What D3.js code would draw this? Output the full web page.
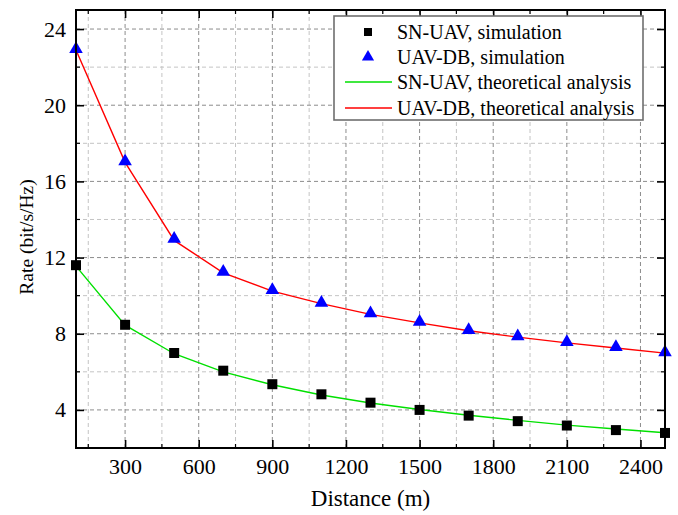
<!DOCTYPE html>
<html><head><meta charset="utf-8">
<script src="https://cdn.jsdelivr.net/npm/d3@7"></script>
<style>body{margin:0;background:#fff}svg{display:block}svg text{font-family:"Liberation Serif","Times New Roman",serif;fill:#000}</style>
</head><body>
<svg id="chart" width="678" height="515" font-family="Liberation Serif"></svg>
<script>
const distances = [100,300,500,700,900,1100,1300,1500,1700,1900,2100,2300,2500];
const snUavSim  = [11.6,8.47,6.99,6.06,5.35,4.82,4.38,4.0,3.70,3.41,3.18,2.94,2.79];
const uavDbSim  = [22.95,17.05,12.98,11.25,10.29,9.62,9.07,8.63,8.19,7.86,7.56,7.30,7.02];
const snUavTheo = [11.55,8.45,6.95,6.0,5.32,4.78,4.36,4.02,3.72,3.45,3.2,3.0,2.8];
const uavDbTheo = [22.9,17.0,12.9,11.2,10.24,9.58,9.02,8.57,8.16,7.82,7.52,7.25,6.98];
const xTicks = [300,600,900,1200,1500,1800,2100,2400];
const yTicks = [4,8,12,16,20,24];
const xMinor = [150,450,750,1050,1350,1650,1950,2250];
const yMinor = [6,10,14,18,22];
const legendLabels = ["SN-UAV, simulation","UAV-DB, simulation","SN-UAV, theoretical analysis","UAV-DB, theoretical analysis"];

const W=678,H=515, m={l:76,r:13,t:10,b:67};
const FONT='"Liberation Serif", "Times New Roman", serif';
const svg=d3.select("#chart");
const x=d3.scaleLinear().domain([100,2500]).range([m.l,W-m.r]);
const y=d3.scaleLinear().domain([2,25]).range([H-m.b,m.t]);
const x0=m.l,x1=W-m.r,y0=H-m.b,y1=m.t;

// grid
const g=svg.append("g");
g.selectAll(".vmin").data(xMinor).join("line").attr("x1",d=>x(d)).attr("x2",d=>x(d)).attr("y1",y0).attr("y2",y1)
 .attr("stroke","#c4c4c4").attr("stroke-dasharray","4,3").attr("stroke-width",1);
g.selectAll(".hmin").data(yMinor).join("line").attr("y1",d=>y(d)).attr("y2",d=>y(d)).attr("x1",x0).attr("x2",x1)
 .attr("stroke","#c4c4c4").attr("stroke-dasharray","4,3").attr("stroke-width",1);
g.selectAll(".vmaj").data(xTicks).join("line").attr("x1",d=>x(d)).attr("x2",d=>x(d)).attr("y1",y0).attr("y2",y1)
 .attr("stroke","#8c8c8c").attr("stroke-dasharray","4,3").attr("stroke-width",1);
g.selectAll(".hmaj").data(yTicks).join("line").attr("y1",d=>y(d)).attr("y2",d=>y(d)).attr("x1",x0).attr("x2",x1)
 .attr("stroke","#8c8c8c").attr("stroke-dasharray","4,3").attr("stroke-width",1);

// axes
const fmt=d3.format("d");
const ax=svg.append("g").attr("transform",`translate(0,${y0})`)
 .call(d3.axisBottom(x).tickValues(xTicks).tickFormat(fmt).tickSize(-8).tickPadding(10).tickSizeOuter(0));
const ay=svg.append("g").attr("transform",`translate(${x0},0)`)
 .call(d3.axisLeft(y).tickValues(yTicks).tickFormat(fmt).tickSize(-8).tickPadding(10).tickSizeOuter(0));
const axt=svg.append("g").attr("transform",`translate(0,${y1})`)
 .call(d3.axisTop(x).tickValues(xTicks).tickSize(-8).tickFormat("").tickSizeOuter(0));
const ayr=svg.append("g").attr("transform",`translate(${x1},0)`)
 .call(d3.axisRight(y).tickValues(yTicks).tickSize(-8).tickFormat("").tickSizeOuter(0));
[ax,ay,axt,ayr].forEach(a=>{
 a.attr("font-family",FONT).attr("font-size",22);
 a.select(".domain").remove();
 a.selectAll(".tick line").attr("stroke","#000").attr("stroke-width",1.6);
 a.selectAll("text").attr("fill","#000").attr("font-family",FONT).attr("font-size",22);
});
// minor ticks
const mt=svg.append("g").attr("stroke","#000").attr("stroke-width",1.2);
mt.selectAll(".mb").data(xMinor).join("line").attr("x1",d=>x(d)).attr("x2",d=>x(d)).attr("y1",y0).attr("y2",y0-4);
mt.selectAll(".mtp").data(xMinor).join("line").attr("x1",d=>x(d)).attr("x2",d=>x(d)).attr("y1",y1).attr("y2",y1+4);
mt.selectAll(".ml").data(yMinor).join("line").attr("y1",d=>y(d)).attr("y2",d=>y(d)).attr("x1",x0).attr("x2",x0+4);
mt.selectAll(".mr").data(yMinor).join("line").attr("y1",d=>y(d)).attr("y2",d=>y(d)).attr("x1",x1).attr("x2",x1-4);

// lines
const line=d3.line().x((d,i)=>x(distances[i])).y(d=>y(d));
const plot=svg.append("g");
plot.append("path").datum(snUavTheo).attr("d",line).attr("fill","none").attr("stroke","#00e000").attr("stroke-width",1.4);
plot.append("path").datum(uavDbTheo).attr("d",line).attr("fill","none").attr("stroke","#ff0000").attr("stroke-width",1.4);
// markers
const sq=d3.symbol().type(d3.symbolSquare).size(100);
const tri=d3.symbol().type(d3.symbolTriangle).size(80);
plot.selectAll(".sq").data(snUavSim).join("path").attr("d",sq).attr("transform",(d,i)=>`translate(${x(distances[i])},${y(d)})`).attr("fill","#000");
plot.selectAll(".tri").data(uavDbSim).join("path").attr("d",tri).attr("transform",(d,i)=>`translate(${x(distances[i])},${y(d)})`).attr("fill","#0000ff");

// frame
svg.append("rect").attr("x",x0).attr("y",y1).attr("width",x1-x0).attr("height",y0-y1).attr("fill","none").attr("stroke","#000").attr("stroke-width",2);

// axis titles
svg.append("text").attr("x",(x0+x1)/2).attr("y",506).attr("text-anchor","middle").attr("font-family",FONT).attr("font-size",23).text("Distance (m)");
svg.append("text").attr("transform","translate(33,237) rotate(-90)").attr("text-anchor","middle").attr("font-family",FONT).attr("font-size",19.5).text("Rate (bit/s/Hz)");

// legend
const lg=svg.append("g");
lg.append("rect").attr("x",334).attr("y",16).attr("width",309).attr("height",104).attr("fill","#fff").attr("stroke","#6e6e6e").attr("stroke-width",1.6);
const rows=[32,57,82,108];
legendLabels.forEach((t,i)=>{
  const yy=rows[i];
  if(i===0) lg.append("path").attr("d",d3.symbol().type(d3.symbolSquare).size(64)).attr("transform",`translate(368,${yy})`).attr("fill","#000");
  if(i===1) lg.append("path").attr("d",d3.symbol().type(d3.symbolTriangle).size(64)).attr("transform",`translate(368,${yy})`).attr("fill","#0000ff");
  if(i===2) lg.append("line").attr("x1",345).attr("x2",392).attr("y1",yy).attr("y2",yy).attr("stroke","#00e000").attr("stroke-width",1.4);
  if(i===3) lg.append("line").attr("x1",345).attr("x2",392).attr("y1",yy).attr("y2",yy).attr("stroke","#ff0000").attr("stroke-width",1.4);
  lg.append("text").attr("x",397).attr("y",yy+7).attr("font-family",FONT).attr("font-size",20).text(t);
});
</script>
</body></html>
